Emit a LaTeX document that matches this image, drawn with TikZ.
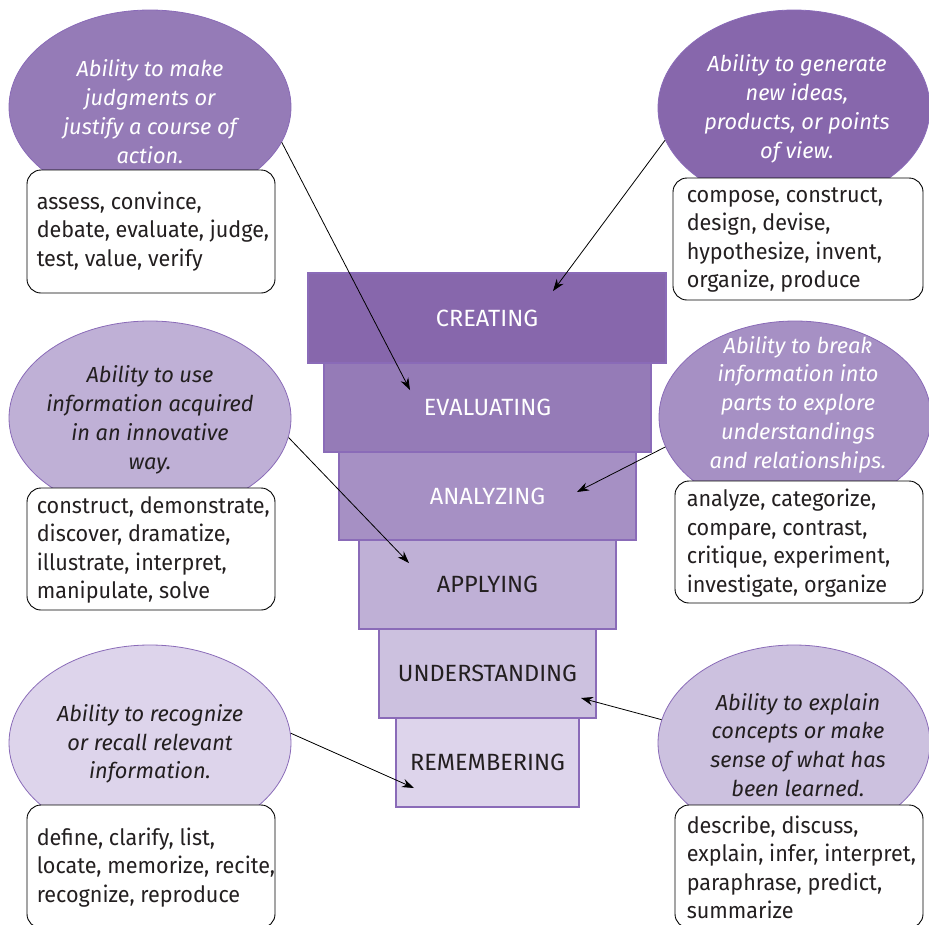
\documentclass[tikz,border=0pt]{standalone}
\usepackage{fontspec}
\setmainfont{Fira Sans}
\newfontfamily\verbfont{Fira Sans}[FakeStretch=0.96]
\usetikzlibrary{arrows.meta,shapes.geometric}
\definecolor{cA}{HTML}{8767AC}
\definecolor{cB}{HTML}{957BB7}
\definecolor{cC}{HTML}{A690C4}
\definecolor{cD}{HTML}{BFB0D6}
\definecolor{cE}{HTML}{CCC1DF}
\definecolor{cF}{HTML}{DDD4EB}
\definecolor{edgepurple}{HTML}{8A6BB8}
\definecolor{darktext}{HTML}{231F20}
\tikzset{
  tier/.style={draw=edgepurple, line width=1.1pt, inner sep=0pt, font=\fontsize{23.5}{26}\selectfont},
  bubble/.style={ellipse, draw=edgepurple, line width=0.8pt, inner sep=0pt},
  btext/.style={align=center, inner sep=0pt, font=\fontsize{21.8}{28.8}\selectfont\itshape},
  verbbox/.style={draw=black, line width=0.9pt, fill=white, rounded corners=14pt, inner sep=0pt},
  verbtext/.style={anchor=west, align=left, inner sep=0pt, font=\verbfont\fontsize{22.5}{28.5}\selectfont, text=darktext},
  conn/.style={line width=0.8pt, -{Stealth[length=12pt,width=8.5pt]}}
}
\begin{document}
\begin{tikzpicture}[x=1pt,y=-1pt]
\useasboundingbox (0,0) rectangle (929,924);
% bubbles
\node[bubble, fill=cB, minimum width=282pt, minimum height=194pt] (e1) at (150,107) {};
\node[bubble, fill=cA, minimum width=272pt, minimum height=196pt] (e2) at (794,108) {};
\node[bubble, fill=cD, minimum width=282pt, minimum height=194pt] (e3) at (150,418) {};
\node[bubble, fill=cC, minimum width=272pt, minimum height=192pt] (e4) at (795,417) {};
\node[bubble, fill=cF, minimum width=282pt, minimum height=196pt] (e5) at (150,743) {};
\node[bubble, fill=cE, minimum width=272pt, minimum height=196pt] (e6) at (794,743) {};
% bubble texts
\node[btext, text=white] (t1) at (150,111.5) {Ability to make\\judgments or\\justify a course of\\action.};
\node[btext, text=white] (t2) at (797,109) {Ability to generate\\new ideas,\\products, or points\\of view.};
\node[btext, text=darktext] (t3) at (150,420) {Ability to use\\information acquired\\in an innovative\\way.};
\node[btext, text=white] (t4) at (798,404.5) {Ability to break\\information into\\parts to explore\\understandings\\and relationships.};
\node[btext, text=darktext] (t5) at (150,744) {Ability to recognize\\or recall relevant\\information.};
\node[btext, text=darktext] (t6) at (798,745) {Ability to explain\\concepts or make\\sense of what has\\been learned.};
% verb boxes
\node[verbbox, minimum width=248pt, minimum height=123pt] (b1) at (151,231.5) {};
\node[verbbox, minimum width=250pt, minimum height=122pt] (b2) at (798,239) {};
\node[verbbox, minimum width=248pt, minimum height=122pt] (b3) at (151,549) {};
\node[verbbox, minimum width=248pt, minimum height=122pt] (b4) at (799,542) {};
\node[verbbox, minimum width=248pt, minimum height=123pt] (b5) at (151,866.5) {};
\node[verbbox, minimum width=248pt, minimum height=123pt] (b6) at (799,866.5) {};
\node[verbtext] (w1) at ([xshift=10pt]b1.west) {assess, convince,\\debate, evaluate, judge,\\test, value, verify};
\node[verbtext] (w2) at ([xshift=14pt,yshift=-1pt]b2.west) {compose, construct,\\design, devise,\\hypothesize, invent,\\organize, produce};
\node[verbtext] (w3) at ([xshift=10pt,yshift=-1pt]b3.west) {construct, demonstrate,\\discover, dramatize,\\illustrate, interpret,\\manipulate, solve};
\node[verbtext] (w4) at ([xshift=12pt,yshift=-1pt]b4.west) {analyze, categorize,\\compare, contrast,\\critique, experiment,\\investigate, organize};
\node[verbtext] (w5) at ([xshift=10pt,yshift=-1pt]b5.west) {define, clarify, list,\\locate, memorize, recite,\\recognize, reproduce};
\node[verbtext] (w6) at ([xshift=12pt,yshift=-1pt]b6.west) {describe, discuss,\\explain, infer, interpret,\\paraphrase, predict,\\summarize};
% funnel
\node[tier, fill=cA, text=white, minimum width=358pt, minimum height=90pt] (cr) at (487,318) {CREATING};
\node[tier, fill=cB, text=white, minimum width=327pt, minimum height=89pt] (ev) at (487.5,407.5) {EVALUATING};
\node[tier, fill=cC, text=white, minimum width=297pt, minimum height=88pt] (an) at (487.5,496) {ANALYZING};
\node[tier, fill=cD, text=darktext, minimum width=257pt, minimum height=89pt] (ap) at (487.5,584.5) {APPLYING};
\node[tier, fill=cE, text=darktext, minimum width=217pt, minimum height=89pt] (un) at (487.5,673.5) {UNDERSTANDING};
\node[tier, fill=cF, text=darktext, minimum width=183pt, minimum height=89pt] (re) at (487.5,762.5) {REMEMBERING};
% arrow targets
\coordinate (a1) at (410,390);
\coordinate (a2) at (553,291);
\coordinate (a3) at (409,563);
\coordinate (a4) at (577,492);
\coordinate (a5) at (414,788);
\coordinate (a6) at (581,698);
\draw[conn] (e1.-15) -- (a1);
\draw[conn] (e2.194) -- (a2);
\draw[conn] (e3.-8) -- (a3);
\draw[conn] (e4.193) -- (a4);
\draw[conn] (e5.4.5) -- (a5);
\draw[conn] (e6.170) -- (a6);
\end{tikzpicture}
\end{document}
